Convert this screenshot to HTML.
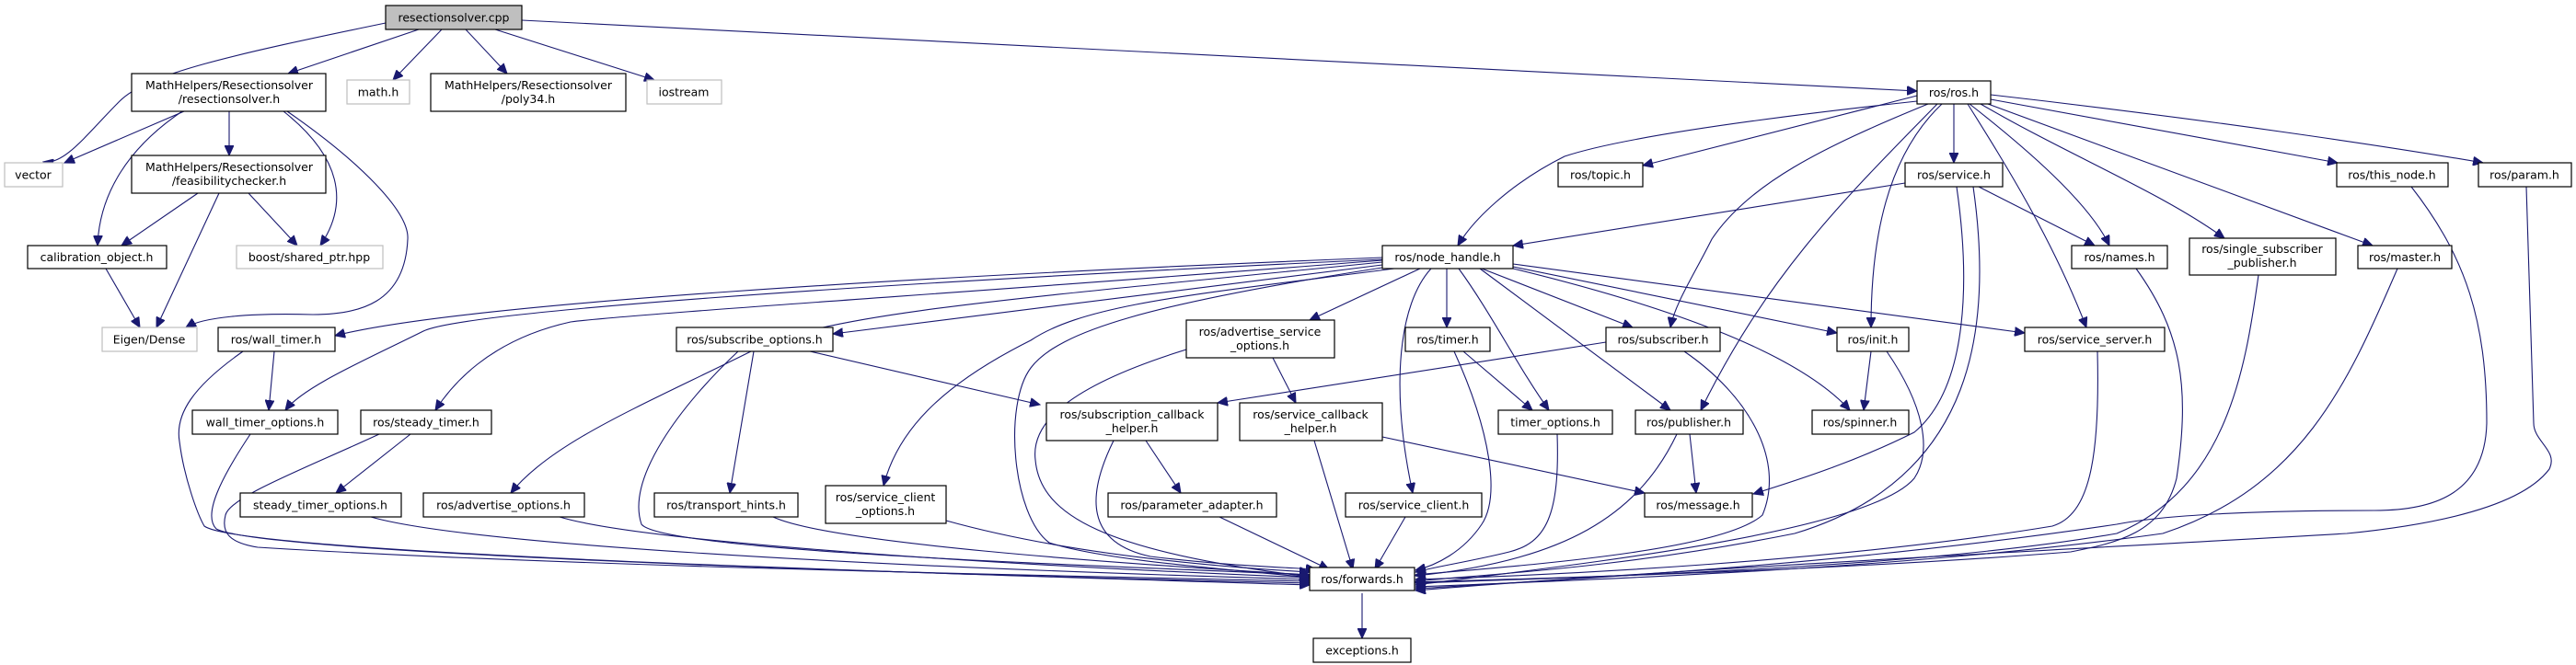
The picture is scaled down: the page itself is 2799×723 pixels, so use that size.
<!DOCTYPE html>
<html><head><meta charset="utf-8"><style>
html,body{margin:0;padding:0;background:#fff;}
svg{display:block;}
text{font-family:"DejaVu Sans","Liberation Sans",sans-serif;font-size:12.5px;fill:#000;text-anchor:middle;}
.b{fill:#fff;stroke:#000;stroke-width:1.2;}
.g{fill:#fff;stroke:#bfbfbf;stroke-width:1.2;}
.e{fill:none;stroke:#191970;stroke-width:1.1;}
</style></head><body>
<svg width="2799" height="723" viewBox="0 0 2799 723" xmlns="http://www.w3.org/2000/svg">
<defs><marker id="a" markerUnits="userSpaceOnUse" markerWidth="12" markerHeight="10" refX="11" refY="5" orient="auto"><path d="M0,0 L11,5 L0,10 z" fill="#191970" stroke="#191970"/></marker></defs>
<g class="e" marker-end="url(#a)">
<!-- resectionsolver.cpp -->
<path d="M419,25 C250,60 160,80 130,110 C95,145 70,180 47,176"/>
<path d="M455,32 L313,80"/>
<path d="M480,32 L427,87"/>
<path d="M506,32 L551,80"/>
<path d="M538,32 L711,87"/>
<path d="M567,22 L2083,99"/>
<!-- resectionsolver.h -->
<path d="M200,121 L70,177"/>
<path d="M249,121 L249,169"/>
<path d="M198,121 C140,160 108,210 106,267"/>
<path d="M308,121 C370,170 380,220 348,267"/>
<path d="M312,121 C390,175 445,230 443,260 C440,330 390,342 340,342 C270,340 220,345 202,356"/>
<!-- feasibility -->
<path d="M215,210 L132,267"/>
<path d="M270,210 L323,267"/>
<path d="M238,210 L170,356"/>
<path d="M115,292 L152,356"/>
<!-- ros.h -->
<path d="M2083,110 C1900,130 1760,150 1700,170 C1640,200 1600,240 1584,267"/>
<path d="M2083,104 L1785,180"/>
<path d="M2123,113 L2123,177"/>
<path d="M2163,108 L2540,177"/>
<path d="M2163,103 C2400,130 2600,160 2698,177"/>
<path d="M2140,113 C2200,160 2270,220 2292,267"/>
<path d="M2152,113 C2250,170 2350,210 2417,259"/>
<path d="M2160,113 L2578,267"/>
<path d="M2095,113 C1980,160 1900,200 1860,260 C1840,300 1820,330 1815,356"/>
<path d="M2110,113 C2050,170 2033,260 2033,356"/>
<path d="M2105,113 C2000,220 1920,300 1848,446"/>
<path d="M2138,113 C2180,180 2230,260 2267,356"/>
<!-- service.h -->
<path d="M2070,199 L1644,267"/>
<path d="M2150,203 L2276,267"/>
<path d="M2126,203 C2140,300 2140,420 2080,470 C2020,500 1960,520 1905,537"/>
<path d="M2144,203 C2165,350 2150,520 1950,580 C1750,620 1600,625 1538,632"/>
<!-- node_handle -->
<path d="M1502,280 C1000,300 500,330 364,365"/>
<path d="M1502,282 C900,310 500,340 460,360 C400,390 330,420 310,446"/>
<path d="M1502,283 C1100,315 700,340 620,350 C530,370 490,420 473,446"/>
<path d="M1502,285 C1100,325 900,340 820,380 C700,440 600,480 555,536"/>
<path d="M1502,288 L905,363"/>
<path d="M1515,292 C1300,320 1180,330 1120,370 C1020,420 975,470 960,528"/>
<path d="M1502,291 C1250,330 1150,360 1120,400 C1090,440 1100,560 1140,590 C1200,610 1350,620 1423,628"/>
<path d="M1543,292 L1423,348"/>
<path d="M1572,292 L1572,356"/>
<path d="M1585,292 C1620,340 1650,400 1683,446"/>
<path d="M1555,292 C1520,330 1510,420 1535,536"/>
<path d="M1608,292 L1815,446"/>
<path d="M1610,292 L1774,356"/>
<path d="M1644,290 L1996,362"/>
<path d="M1644,287 L2200,362"/>
<path d="M1644,292 C1800,330 1950,380 2010,446"/>
<!-- subscribe_options -->
<path d="M880,382 L1130,440"/>
<path d="M819,382 L793,536"/>
<path d="M802,382 C740,440 680,520 697,570 C720,600 1200,615 1423,625"/>
<!-- wall timers -->
<path d="M298,382 L292,446"/>
<path d="M264,382 C210,420 190,450 195,480 C200,520 215,560 222,572 C260,600 900,620 1423,636"/>
<path d="M272,472 C240,520 220,560 235,575 C280,600 900,622 1423,634"/>
<path d="M446,472 L365,536"/>
<path d="M412,472 C330,510 250,540 245,560 C240,580 250,590 280,595 C600,615 1100,625 1423,632"/>
<path d="M403,562 C500,590 900,615 1423,630"/>
<path d="M608,562 C700,590 1100,615 1423,628"/>
<path d="M840,562 C900,590 1200,612 1423,625"/>
<path d="M1028,566 C1150,600 1300,615 1423,622"/>
<path d="M1289,380 C1160,420 1120,460 1125,500 C1130,560 1200,600 1423,627"/>
<path d="M1383,389 L1408,438"/>
<!-- subscriber / callbacks -->
<path d="M1745,372 L1323,438"/>
<path d="M1830,382 C1900,430 1940,500 1915,560 C1870,600 1650,615 1538,625"/>
<path d="M1245,479 L1283,536"/>
<path d="M1210,479 C1180,540 1180,590 1250,605 C1330,615 1400,617 1430,619"/>
<path d="M1428,479 L1470,619"/>
<path d="M1502,475 L1787,536"/>
<path d="M1325,562 L1444,619"/>
<path d="M1527,562 L1494,619"/>
<path d="M1590,382 L1665,446"/>
<path d="M1580,382 C1620,470 1630,540 1610,570 C1590,600 1560,615 1538,620"/>
<path d="M1692,472 C1695,560 1680,590 1640,600 C1600,610 1560,616 1538,622"/>
<path d="M1836,472 L1843,536"/>
<path d="M1822,472 C1780,560 1700,610 1538,626"/>
<path d="M2033,382 L2025,446"/>
<path d="M2050,382 C2090,440 2100,490 2080,520 C2030,580 1700,615 1538,636"/>
<path d="M2279,382 C2282,500 2270,560 2230,572 C2000,610 1700,625 1538,630"/>
<path d="M2321,292 C2370,360 2380,420 2365,520 C2350,580 2300,590 2250,600 C2000,620 1700,628 1538,633"/>
<path d="M2454,299 C2440,400 2420,530 2300,580 C2100,615 1800,625 1538,634"/>
<path d="M2605,292 C2550,420 2500,530 2350,580 C2100,615 1800,628 1538,638"/>
<path d="M2620,203 C2680,280 2702,350 2702,460 C2700,540 2640,555 2580,555 C2450,555 2350,560 2300,570 C2000,615 1700,630 1538,640"/>
<path d="M2745,203 L2753,460 C2753,480 2780,490 2770,510 C2740,550 2650,570 2550,580 C2200,600 1800,620 1538,642"/>
<path d="M1480,645 L1480,694"/>
</g>
<!-- nodes -->
<rect x="419" y="6" width="148" height="26" fill="#bfbfbf" stroke="#000" stroke-width="1.2"/><text x="493" y="23.5">resectionsolver.cpp</text>
<rect class="b" x="143" y="80" width="211" height="41"/><text x="249" y="97">MathHelpers/Resectionsolver</text><text x="249" y="112">/resectionsolver.h</text>
<rect class="g" x="377" y="87" width="68" height="26"/><text x="411" y="104.5">math.h</text>
<rect class="b" x="468" y="80" width="212" height="41"/><text x="574" y="97">MathHelpers/Resectionsolver</text><text x="574" y="112">/poly34.h</text>
<rect class="g" x="703" y="87" width="81" height="26"/><text x="743" y="104.5">iostream</text>
<rect class="g" x="5" y="177" width="63" height="26"/><text x="36" y="194.5">vector</text>
<rect class="b" x="143" y="169" width="211" height="41"/><text x="249" y="186">MathHelpers/Resectionsolver</text><text x="249" y="201">/feasibilitychecker.h</text>
<rect class="b" x="30" y="267" width="151" height="25"/><text x="105" y="284">calibration_object.h</text>
<rect class="g" x="257" y="267" width="159" height="25"/><text x="336" y="284">boost/shared_ptr.hpp</text>
<rect class="g" x="111" y="356" width="103" height="26"/><text x="162" y="373.5">Eigen/Dense</text>
<rect class="b" x="237" y="356" width="127" height="26"/><text x="300" y="373.5">ros/wall_timer.h</text>
<rect class="b" x="209" y="446" width="158" height="26"/><text x="288" y="463.5">wall_timer_options.h</text>
<rect class="b" x="392" y="446" width="142" height="26"/><text x="463" y="463.5">ros/steady_timer.h</text>
<rect class="b" x="261" y="536" width="175" height="26"/><text x="348" y="553.5">steady_timer_options.h</text>
<rect class="b" x="460" y="536" width="175" height="26"/><text x="547" y="553.5">ros/advertise_options.h</text>
<rect class="b" x="735" y="356" width="170" height="26"/><text x="820" y="373.5">ros/subscribe_options.h</text>
<rect class="b" x="711" y="536" width="156" height="26"/><text x="789" y="553.5">ros/transport_hints.h</text>
<rect class="b" x="1693" y="177" width="92" height="26"/><text x="1739" y="194.5">ros/topic.h</text>
<rect class="b" x="1502" y="267" width="142" height="25"/><text x="1573" y="284">ros/node_handle.h</text>
<rect class="b" x="1289" y="348" width="161" height="41"/><text x="1369" y="365">ros/advertise_service</text><text x="1369" y="380">_options.h</text>
<rect class="b" x="1527" y="356" width="92" height="26"/><text x="1573" y="373.5">ros/timer.h</text>
<rect class="b" x="1745" y="356" width="124" height="26"/><text x="1807" y="373.5">ros/subscriber.h</text>
<rect class="b" x="1137" y="438" width="186" height="41"/><text x="1230" y="455">ros/subscription_callback</text><text x="1230" y="470">_helper.h</text>
<rect class="b" x="1347" y="438" width="155" height="41"/><text x="1424" y="455">ros/service_callback</text><text x="1424" y="470">_helper.h</text>
<rect class="b" x="1628" y="446" width="124" height="26"/><text x="1690" y="463.5">timer_options.h</text>
<rect class="b" x="1777" y="446" width="117" height="26"/><text x="1835" y="463.5">ros/publisher.h</text>
<rect class="b" x="897" y="528" width="131" height="41"/><text x="962" y="545">ros/service_client</text><text x="962" y="560">_options.h</text>
<rect class="b" x="1204" y="536" width="183" height="26"/><text x="1295" y="553.5">ros/parameter_adapter.h</text>
<rect class="b" x="1462" y="536" width="148" height="26"/><text x="1536" y="553.5">ros/service_client.h</text>
<rect class="b" x="1787" y="536" width="117" height="26"/><text x="1845" y="553.5">ros/message.h</text>
<rect class="b" x="1423" y="617" width="114" height="25"/><text x="1480" y="634">ros/forwards.h</text>
<rect class="b" x="1427" y="694" width="106" height="26"/><text x="1480" y="711.5">exceptions.h</text>
<rect class="b" x="2083" y="88" width="80" height="25"/><text x="2123" y="105">ros/ros.h</text>
<rect class="b" x="2070" y="177" width="106" height="26"/><text x="2123" y="194.5">ros/service.h</text>
<rect class="b" x="2539" y="177" width="121" height="26"/><text x="2599" y="194.5">ros/this_node.h</text>
<rect class="b" x="2693" y="177" width="101" height="26"/><text x="2743" y="194.5">ros/param.h</text>
<rect class="b" x="2251" y="267" width="104" height="25"/><text x="2303" y="284">ros/names.h</text>
<rect class="b" x="2379" y="259" width="159" height="40"/><text x="2458" y="275">ros/single_subscriber</text><text x="2458" y="290">_publisher.h</text>
<rect class="b" x="2562" y="267" width="102" height="25"/><text x="2613" y="284">ros/master.h</text>
<rect class="b" x="1996" y="356" width="78" height="26"/><text x="2035" y="373.5">ros/init.h</text>
<rect class="b" x="2200" y="356" width="152" height="26"/><text x="2276" y="373.5">ros/service_server.h</text>
<rect class="b" x="1969" y="446" width="105" height="26"/><text x="2021" y="463.5">ros/spinner.h</text>
</svg>
</body></html>
